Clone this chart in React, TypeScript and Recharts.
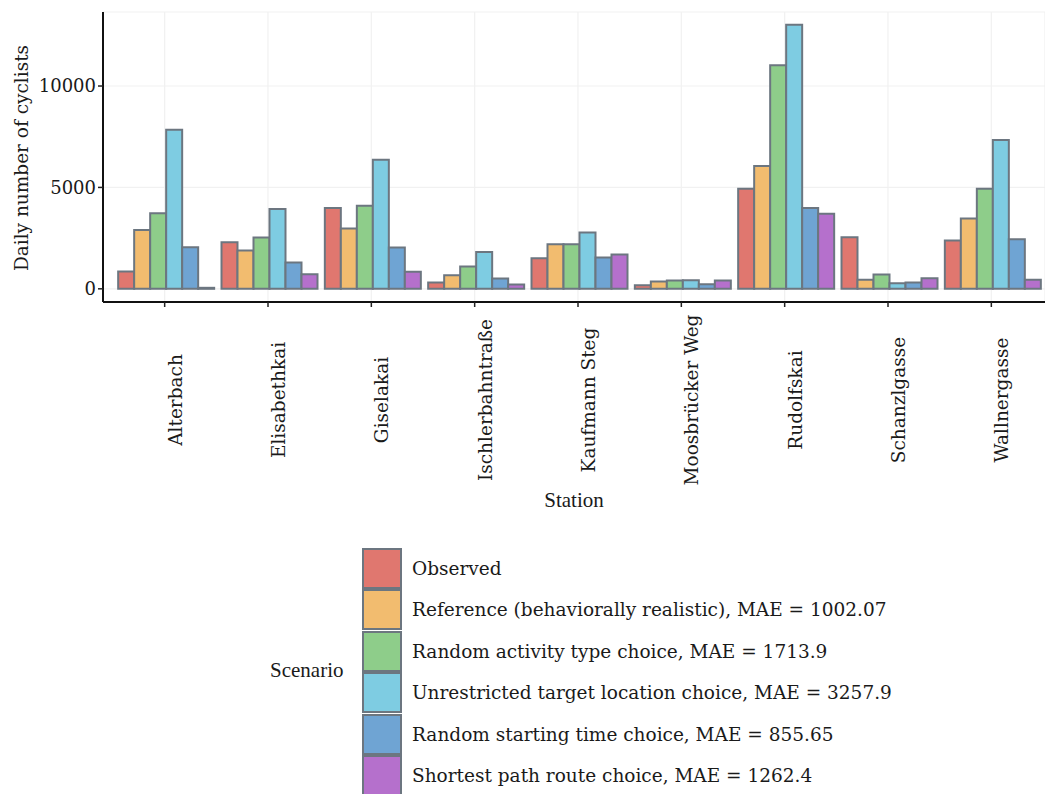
import { BarChart, Bar, XAxis, YAxis, CartesianGrid, Legend } from 'recharts';

const stations = [
  'Alterbach',
  'Elisabethkai',
  'Giselakai',
  'Ischlerbahntraße',
  'Kaufmann Steg',
  'Moosbrücker Weg',
  'Rudolfskai',
  'Schanzlgasse',
  'Wallnergasse',
];

const observed = [850, 2300, 3990, 310, 1510, 180, 4940, 2545, 2380];
const reference = [2900, 1890, 2970, 670, 2200, 360, 6060, 445, 3465];
const randomActivity = [3730, 2530, 4090, 1100, 2200, 410, 11020, 705, 4930];
const unrestricted = [7840, 3940, 6360, 1820, 2775, 425, 13020, 280, 7340];
const randomStart = [2050, 1300, 2035, 505, 1545, 230, 3990, 310, 2450];
const shortestPath = [50, 720, 840, 210, 1690, 410, 3700, 525, 445];

const scenarioNames = [
  'Observed',
  'Reference (behaviorally realistic), MAE = 1002.07',
  'Random activity type choice, MAE = 1713.9',
  'Unrestricted target location choice, MAE = 3257.9',
  'Random starting time choice, MAE = 855.65',
  'Shortest path route choice, MAE = 1262.4',
];
const scenarioColors = ['#E0776F', '#F2BC6F', '#8ECD8A', '#7ECCE2', '#6FA4D3', '#B570CC'];
const seriesValues = [observed, reference, randomActivity, unrestricted, randomStart, shortestPath];
const keys = ['s0', 's1', 's2', 's3', 's4', 's5'];

const yTicks = [0, 5000, 10000];

const data = stations.map((station, i) => {
  const row: { [k: string]: string | number } = { station };
  keys.forEach((k, j) => {
    row[k] = seriesValues[j][i];
  });
  return row;
});

const serif = '"DejaVu Serif", serif';
const edge = '#6C7680';

function StationTick(props: any) {
  const { x, y, payload } = props;
  return (
    <g transform={`translate(${x + 17},${y + 91})`}>
      <text transform="rotate(-90)" textAnchor="middle" fontFamily={serif} fontSize={18.5} fill="#1a1a1a">
        {payload.value}
      </text>
    </g>
  );
}

function YTitle(props: any) {
  const { viewBox } = props;
  const cy = viewBox.y + viewBox.height / 2 + 1;
  return (
    <text
      transform={`translate(28,${cy}) rotate(-90)`}
      textAnchor="middle"
      fontFamily={serif}
      fontSize={18.5}
      fill="#1a1a1a"
    >
      Daily number of cyclists
    </text>
  );
}

function ScenarioLegend() {
  return (
    <div style={{ position: 'relative', width: 700, height: 260, fontFamily: serif, color: '#1a1a1a' }}>
      <div
        style={{
          position: 'absolute',
          left: 10,
          top: 113,
          fontFamily: '"Liberation Serif", serif',
          fontSize: 21,
        }}
      >
        Scenario
      </div>
      {scenarioNames.map((name, i) => (
        <div
          key={name}
          style={{ position: 'absolute', left: 102, top: 3 + i * 41.4, height: 41, display: 'flex', alignItems: 'center' }}
        >
          <div
            style={{
              width: 36,
              height: 37,
              background: scenarioColors[i],
              border: `2px solid ${edge}`,
            }}
          />
          <span style={{ marginLeft: 10, fontSize: 18.5, whiteSpace: 'nowrap' }}>{name}</span>
        </div>
      ))}
    </div>
  );
}

export default function App() {
  return (
    <div style={{ position: 'absolute', left: 0, top: 0, background: '#fff' }}>
      <BarChart
        width={1045}
        height={794}
        data={data}
        margin={{ top: 12, right: 0, left: 0, bottom: 0 }}
        barCategoryGap="5%"
        barGap={0}
      >
        <CartesianGrid stroke="#F1F1F1" strokeWidth={1.2} />
        <XAxis
          dataKey="station"
          height={492}
          padding={{ left: 10, right: 2 }}
          tick={<StationTick />}
          tickLine={{ stroke: '#222', strokeWidth: 1.5 }}
          tickSize={5}
          axisLine={{ stroke: '#111', strokeWidth: 2 }}
          interval={0}
          label={{
            value: 'Station',
            position: 'insideTop',
            offset: 190,
            fontFamily: '"Liberation Serif", serif',
            fontSize: 21,
            fill: '#1a1a1a',
          }}
        />
        <YAxis
          width={103}
          domain={[-650, 13650]}
          ticks={yTicks}
          tickFormatter={(v: number) => String(v)}
          tick={{ fontFamily: serif, fontSize: 18, fill: '#1a1a1a' }}
          tickLine={{ stroke: '#222', strokeWidth: 1.5 }}
          tickSize={5}
          axisLine={{ stroke: '#111', strokeWidth: 2 }}
          label={<YTitle />}
        />
        <Legend
          layout="vertical"
          align="center"
          verticalAlign="middle"
          content={<ScenarioLegend />}
          wrapperStyle={{ top: 545, left: 260, width: 700, height: 260 }}
        />
        {keys.map((k, j) => (
          <Bar
            key={k}
            dataKey={k}
            name={scenarioNames[j]}
            fill={scenarioColors[j]}
            stroke={edge}
            strokeWidth={2}
            isAnimationActive={false}
          />
        ))}
      </BarChart>
    </div>
  );
}
